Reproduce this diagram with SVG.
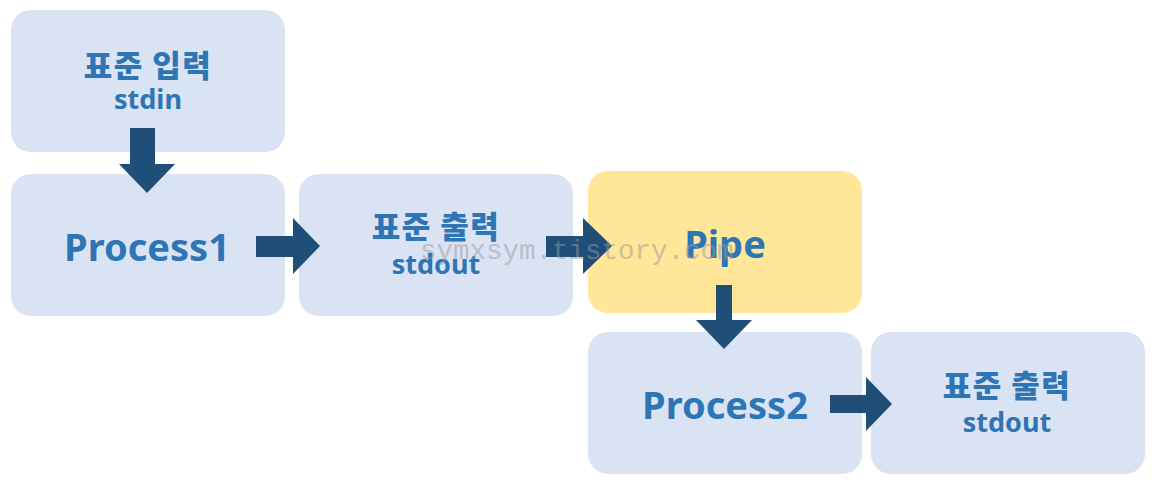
<svg xmlns="http://www.w3.org/2000/svg" width="1159" height="502" viewBox="0 0 1159 502">
<style>
.box{fill:#DAE3F3}
.pipe{fill:#FFE699}
.arr{fill:#1F4E79}
.t{fill:#2E75B6;font-family:"Noto Sans","Noto Sans CJK KR",sans-serif;font-weight:bold;text-anchor:middle}
.k{font-family:"Noto Sans CJK KR",sans-serif;font-size:31px;font-weight:900;letter-spacing:1.5px}
.s{font-size:27px}
.big{font-size:38px}
.wm{fill:#999;opacity:0.5;font-family:"Liberation Mono",monospace;font-size:27.5px}
</style>
<rect width="1159" height="502" fill="#ffffff"/>
<g id="stdin">
<rect class="box" x="11" y="10" width="274" height="142" rx="20"/>
<text class="t k" x="148" y="77">표준 입력</text>
<text class="t s" x="148" y="109">stdin</text>
</g>
<g id="process1">
<rect class="box" x="11" y="174" width="274" height="142" rx="20"/>
<text class="t big" x="147" y="261">Process1</text>
</g>
<g id="stdout1">
<rect class="box" x="299" y="174" width="274" height="142" rx="20"/>
<text class="t k" x="436" y="238">표준 출력</text>
<text class="t s" x="436" y="274">stdout</text>
</g>
<g id="pipe">
<rect class="pipe" x="588" y="171" width="274" height="142" rx="20"/>
<text class="t big" x="725" y="258">Pipe</text>
</g>
<g id="process2">
<rect class="box" x="588" y="332" width="274" height="142" rx="20"/>
<text class="t big" x="725" y="419">Process2</text>
</g>
<g id="stdout2">
<rect class="box" x="871" y="332" width="274" height="142" rx="20"/>
<text class="t k" x="1007" y="397">표준 출력</text>
<text class="t s" x="1007" y="432">stdout</text>
</g>
<g id="connectors">
<polygon class="arr" points="130,128 155,128 155,164 175,164 147,193 119,164 130,164"/>
<polygon class="arr" points="256,236 293,236 293,218 320,246 293,274 293,257 256,257"/>
<polygon class="arr" points="546,236 583,236 583,218 612,246 583,274 583,257 546,257"/>
<polygon class="arr" points="716,285 732,285 732,320 752,320 724,349 696,320 716,320"/>
<polygon class="arr" points="830,395 866,395 866,377 892,404 866,431 866,413 830,413"/>
</g>
<text class="wm" x="420" y="259">symxsym.tistory.com</text>
</svg>
